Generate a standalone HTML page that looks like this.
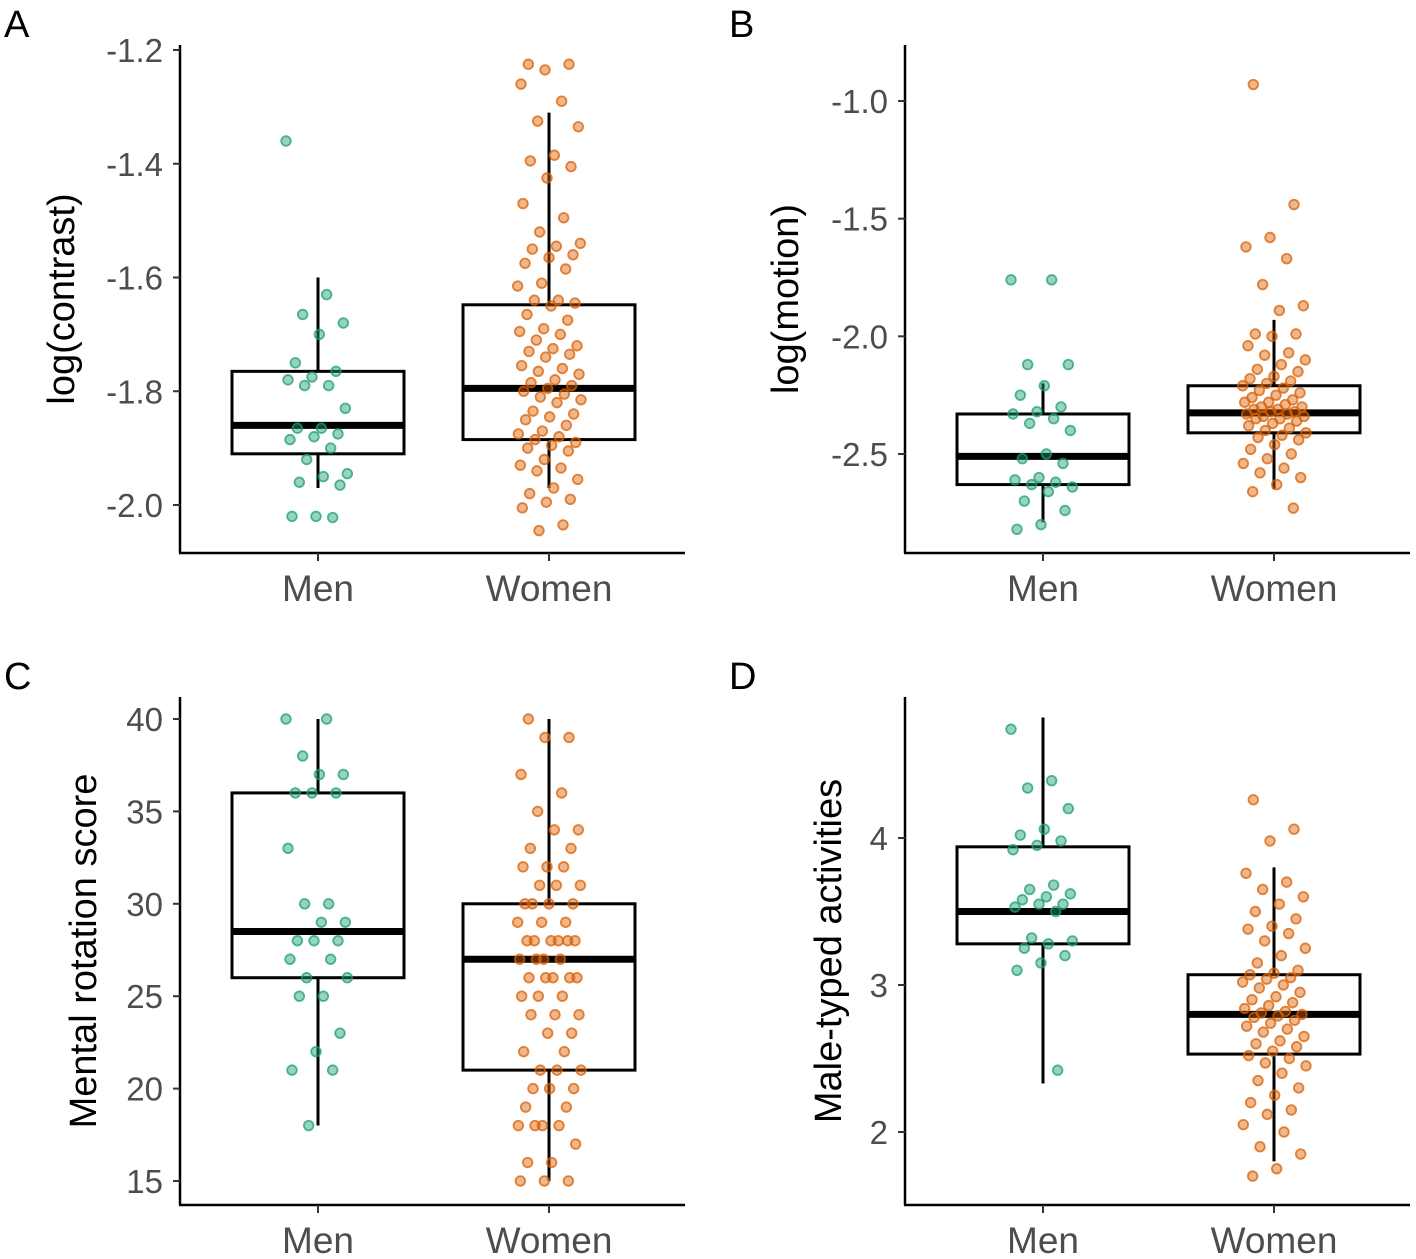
<!DOCTYPE html>
<html><head><meta charset="utf-8"><style>
html,body{margin:0;padding:0;background:#fff;}
svg{display:block;font-family:"Liberation Sans",Arial,sans-serif;}
</style></head><body>
<svg id="chart" width="1416" height="1259" viewBox="0 0 1416 1259" xmlns="http://www.w3.org/2000/svg"></svg>
<script>
const groups = ["Men","Women"];
// Panel A
const aTicks = [-1.2,-1.4,-1.6,-1.8,-2.0];
const aMenStats = [-1.97,-1.91,-1.86,-1.765,-1.60];
const aWomenStats = [-1.97,-1.885,-1.795,-1.648,-1.31];
const aMen = [-1.36,-1.63,-1.665,-1.68,-1.70,-1.75,-1.765,-1.775,-1.78,-1.79,-1.79,-1.83,-1.865,-1.865,-1.875,-1.88,-1.885,-1.90,-1.92,-1.945,-1.95,-1.96,-1.965,-2.02,-2.02,-2.022];
const aWomen = [-1.225,-1.225,-1.235,-1.26,-1.29,-1.325,-1.335,-1.385,-1.395,-1.405,-1.425,-1.47,-1.495,-1.52,-1.54,-1.545,-1.55,-1.56,-1.565,-1.575,-1.585,-1.61,-1.615,-1.64,-1.64,-1.645,-1.65,-1.665,-1.675,-1.69,-1.695,-1.70,-1.71,-1.72,-1.725,-1.73,-1.735,-1.74,-1.755,-1.76,-1.765,-1.77,-1.78,-1.785,-1.79,-1.795,-1.80,-1.805,-1.81,-1.815,-1.82,-1.835,-1.84,-1.845,-1.85,-1.86,-1.87,-1.875,-1.88,-1.885,-1.89,-1.895,-1.90,-1.905,-1.92,-1.93,-1.935,-1.94,-1.955,-1.97,-1.98,-1.99,-1.995,-2.005,-2.035,-2.045];
// Panel B
const bTicks = [-1.0,-1.5,-2.0,-2.5];
const bMenStats = [-2.79,-2.63,-2.51,-2.33,-2.20];
const bWomenStats = [-2.65,-2.41,-2.325,-2.21,-1.93];
const bMen = [-1.76,-1.76,-2.12,-2.12,-2.21,-2.25,-2.30,-2.32,-2.33,-2.35,-2.37,-2.40,-2.50,-2.52,-2.54,-2.60,-2.61,-2.62,-2.63,-2.64,-2.66,-2.70,-2.74,-2.80,-2.82];
const bWomen = [-0.93,-1.44,-1.58,-1.62,-1.67,-1.78,-1.87,-1.89,-1.99,-1.99,-2.00,-2.04,-2.07,-2.08,-2.10,-2.12,-2.14,-2.15,-2.17,-2.18,-2.19,-2.20,-2.21,-2.22,-2.23,-2.24,-2.25,-2.26,-2.27,-2.28,-2.28,-2.29,-2.30,-2.30,-2.31,-2.31,-2.32,-2.32,-2.33,-2.33,-2.34,-2.34,-2.35,-2.35,-2.36,-2.37,-2.38,-2.39,-2.40,-2.41,-2.42,-2.43,-2.44,-2.46,-2.48,-2.50,-2.52,-2.54,-2.56,-2.58,-2.60,-2.63,-2.66,-2.73];
// Panel C
const cTicks = [40,35,30,25,20,15];
const cMenStats = [18,26,28.5,36,40];
const cWomenStats = [15,21,27,30,40];
const cMen = [40,40,38,37,37,36,36,36,33,30,30,29,29,28,28,28,27,27,26,26,25,25,23,22,21,21,18];
const cWomen = [40,39,39,37,36,35,34,34,33,33,32,32,32,31,31,31,30,30,30,30,29,29,29,28,28,28,28,28,28,27,27,27,27,26,26,26,26,26,25,25,25,24,24,24,23,23,22,22,21,21,21,20,20,20,19,19,18,18,18,18,17,16,16,15,15,15];
// Panel D
const dTicks = [4,3,2];
const dMenStats = [2.33,3.28,3.5,3.94,4.82];
const dWomenStats = [1.8,2.53,2.8,3.07,3.8];
const dMen = [4.74,4.39,4.34,4.2,4.06,4.02,3.98,3.95,3.92,3.68,3.65,3.62,3.6,3.58,3.55,3.55,3.53,3.5,3.32,3.3,3.28,3.25,3.2,3.15,3.1,2.42];
const dWomen = [4.26,4.06,3.98,3.76,3.7,3.65,3.6,3.55,3.5,3.45,3.4,3.38,3.35,3.3,3.25,3.2,3.15,3.1,3.08,3.07,3.05,3.04,3.02,3.0,2.98,2.95,2.92,2.9,2.88,2.86,2.84,2.82,2.81,2.8,2.79,2.78,2.76,2.74,2.72,2.7,2.68,2.65,2.62,2.6,2.58,2.55,2.52,2.5,2.47,2.45,2.4,2.35,2.3,2.25,2.2,2.15,2.12,2.05,2.0,1.9,1.85,1.75,1.7];

const NS="http://www.w3.org/2000/svg";
const svg=document.getElementById('chart');
function mk(tag,attrs,parent){const e=document.createElementNS(NS,tag);for(const k in attrs)e.setAttribute(k,attrs[k]);(parent||svg).appendChild(e);return e;}

function panel(cfg){
  const g=mk('g',{});
  
  
  const y=v=>cfg.y0+(v-cfg.v0)*(cfg.y1-cfg.y0)/(cfg.v1-cfg.v0);
  const xs=[cfg.ax+138,cfg.ax+369];
  const lt=mk('text',{x:cfg.ax-176,y:cfg.top-8,'font-size':38,fill:'#000'},g);lt.textContent=cfg.letter;
  
  
  const ya=mk('line',{x1:cfg.ax,y1:cfg.top,x2:cfg.ax,y2:cfg.bot,stroke:'#000','stroke-width':2.5},g);
  
  
  const xa=mk('line',{x1:cfg.ax-1,y1:cfg.bot,x2:cfg.ax+505,y2:cfg.bot,stroke:'#000','stroke-width':2.5},g);
  
  
  cfg.ticks.forEach(t=>{
    mk('line',{x1:cfg.ax-7,y1:y(t),x2:cfg.ax,y2:y(t),stroke:'#333','stroke-width':2},g);
    const tx=mk('text',{x:cfg.ax-17,y:y(t)+12,'font-size':33,fill:'#4d4d4d','text-anchor':'end'},g);
    tx.textContent=cfg.fmt(t);
    
    
  });
  groups.forEach((gn,i)=>{
    mk('line',{x1:xs[i],y1:cfg.bot,x2:xs[i],y2:cfg.bot+8,stroke:'#333','stroke-width':2},g);
    const tx=mk('text',{x:xs[i],y:cfg.bot+48,'font-size':37,fill:'#4d4d4d','text-anchor':'middle'},g);
    tx.textContent=gn;
    
    
  });
  const tt=mk('text',{transform:`translate(${cfg.ax-cfg.toff},${(cfg.top+cfg.bot)/2}) rotate(-90)`,'font-size':38,fill:'#000','text-anchor':'middle'},g);
  tt.textContent=cfg.title;
  
  
  const stats=[cfg.ms,cfg.ws];
  stats.forEach((s,i)=>{
    const bg=mk('g',{},g);
    
    
    const cx=xs[i];
    mk('line',{x1:cx,y1:y(s[0]),x2:cx,y2:y(s[4]),stroke:'#000','stroke-width':3},bg);
    mk('rect',{x:cx-86,y:y(s[3]),width:172,height:y(s[1])-y(s[3]),fill:'#fff',stroke:'#000','stroke-width':3},bg);
    mk('line',{x1:cx-86,y1:y(s[2]),x2:cx+86,y2:y(s[2]),stroke:'#000','stroke-width':7},bg);
  });
  const pts=[cfg.men,cfg.women],cols=['#1b9e77','#d95f02'];
  pts.forEach((arr,i)=>{
    arr.forEach((v,j)=>{
      const jit=((((j*61+i*17)%97)/96)-0.5)*64;
      const c=mk('circle',{cx:xs[i]+jit,cy:y(v),r:4.8,fill:cols[i],'fill-opacity':0.45,stroke:cols[i],'stroke-opacity':0.75,'stroke-width':1.8},g);
      
      
    });
  });
}
panel({letter:'A',ax:180,top:45,bot:553,v0:-1.2,y0:50,v1:-2.0,y1:505,ticks:aTicks,fmt:t=>t.toFixed(1),title:'log(contrast)',toff:106,ms:aMenStats,ws:aWomenStats,men:aMen,women:aWomen});
panel({letter:'B',ax:905,top:45,bot:553,v0:-1.0,y0:101,v1:-2.5,y1:454,ticks:bTicks,fmt:t=>t.toFixed(1),title:'log(motion)',toff:107,ms:bMenStats,ws:bWomenStats,men:bMen,women:bWomen});
panel({letter:'C',ax:180,top:697,bot:1205,v0:40,y0:719,v1:15,y1:1181,ticks:cTicks,fmt:t=>String(t),title:'Mental rotation score',toff:84,ms:cMenStats,ws:cWomenStats,men:cMen,women:cWomen});
panel({letter:'D',ax:905,top:697,bot:1205,v0:4,y0:838,v1:2,y1:1132,ticks:dTicks,fmt:t=>String(t),title:'Male-typed activities',toff:64,ms:dMenStats,ws:dWomenStats,men:dMen,women:dWomen});
</script>
</body></html>
